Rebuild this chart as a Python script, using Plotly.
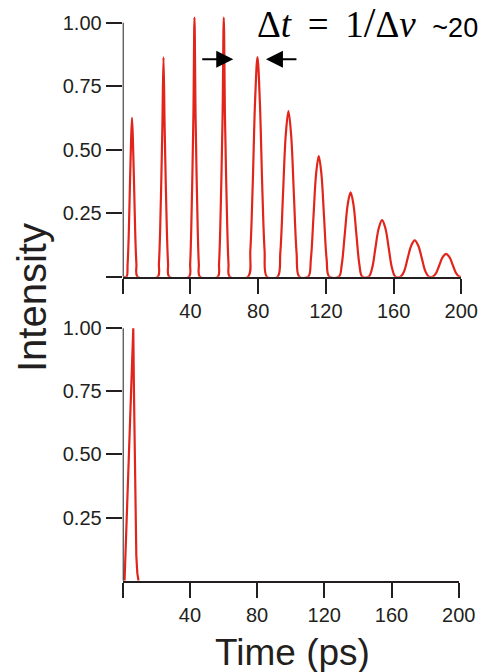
import plotly.graph_objects as go

# ---------------- data ----------------
# top panel: pulse train, time in ps, normalised intensity
train_t = [
    0.5,
    2.25, 2.9, 3.55, 4.2, 4.85, 5.5, 6.15, 6.8, 7.45, 8.1, 8.75,
    20.73, 21.4, 22.08, 22.75, 23.43, 24.1, 24.77, 25.45, 26.12, 26.8, 27.47,
    39.2, 39.84, 40.48, 41.12, 41.76, 42.4, 43.04, 43.68, 44.32, 44.96, 45.6,
    56.2, 56.9, 57.6, 58.3, 59.0, 59.7, 60.4, 61.1, 61.8, 62.5, 63.2,
    74.0, 75.4, 76.8, 78.2, 79.6, 81.0, 82.4, 83.8, 85.2,
    91.5, 93.1, 94.7, 96.3, 97.9, 99.5, 101.1, 102.7, 104.3,
    109.6, 111.15, 112.7, 114.25, 115.8, 117.35, 118.9, 120.45, 122.0,
    127.7, 129.4, 131.15, 132.9, 134.6, 136.3, 138.05, 139.8, 141.5,
    145.3, 147.3, 149.25, 151.2, 153.2, 155.2, 157.15, 159.1, 161.1,
    164.1, 166.2, 168.3, 170.4, 172.5, 174.6, 176.7, 178.8, 180.9,
    183.0, 185.0, 187.0, 189.0, 191.0, 193.0, 195.0, 197.0, 199.0,
    200.0,
]
train_i = [
    0.0,
    0.0, 0.05, 0.16, 0.34, 0.51, 0.625, 0.51, 0.34, 0.16, 0.05, 0.0,
    0.0, 0.052, 0.173, 0.363, 0.588, 0.864, 0.588, 0.363, 0.173, 0.052, 0.0,
    0.0, 0.051, 0.184, 0.388, 0.632, 1.02, 0.632, 0.388, 0.184, 0.051, 0.0,
    0.0, 0.051, 0.184, 0.388, 0.632, 1.02, 0.632, 0.388, 0.184, 0.051, 0.0,
    0.0, 0.104, 0.363, 0.692, 0.865, 0.692, 0.363, 0.104, 0.0,
    0.0, 0.095, 0.326, 0.557, 0.652, 0.557, 0.326, 0.095, 0.0,
    0.0, 0.069, 0.238, 0.406, 0.475, 0.406, 0.238, 0.069, 0.0,
    0.0, 0.048, 0.166, 0.284, 0.332, 0.284, 0.166, 0.048, 0.0,
    0.0, 0.033, 0.112, 0.190, 0.223, 0.190, 0.112, 0.033, 0.0,
    0.0, 0.021, 0.072, 0.122, 0.143, 0.122, 0.072, 0.021, 0.0,
    0.0, 0.013, 0.045, 0.077, 0.090, 0.077, 0.045, 0.013, 0.0,
    0.0,
]

# bottom panel: single pulse
single_t = [1.1, 2.4, 3.7, 5.0, 6.3, 6.7, 7.1, 7.6, 8.1, 8.7, 9.4]
single_i = [0.0, 0.25, 0.5, 0.75, 1.0, 0.75, 0.5, 0.25, 0.1, 0.03, 0.0]

# axes ticks
x_ticks = [0, 40, 80, 120, 160, 200]
x_tick_labels = ["", "40", "80", "120", "160", "200"]
y_ticks_top = [0, 0.25, 0.5, 0.75, 1.0]
y_tick_labels_top = ["", "0.25", "0.50", "0.75", "1.00"]
y_ticks_bottom = [0.25, 0.5, 0.75, 1.0]
y_tick_labels_bottom = ["0.25", "0.50", "0.75", "1.00"]

# spacing arrows (tail time, head time, level)
arrow_tails = [46.1, 103.5]
arrow_heads = [65.3, 84.6]
arrow_level = 0.856

# ---------------- styles ----------------
W, H = 480, 672
RED = "#e1251b"
INK = "#231f20"
SANS = "Liberation Sans, Arial, sans-serif"
SERIF = "Liberation Serif, Times New Roman, serif"

fig = go.Figure()
fig.add_trace(go.Scatter(x=train_t, y=train_i, mode="lines",
                         line=dict(color=RED, width=2.2, shape="spline"),
                         xaxis="x", yaxis="y", hoverinfo="skip"))
fig.add_trace(go.Scatter(x=single_t, y=single_i, mode="lines",
                         line=dict(color=RED, width=2.2),
                         xaxis="x2", yaxis="y2", hoverinfo="skip"))

def px_x(p):
    return p / W

def px_y(p):
    return 1 - p / H

yr = [0, 1.035]
top_y0, top_y1 = 276.7, 22.7
bot_y0, bot_y1 = 580.7, 328.3
top_dom = [px_y(top_y0), px_y(top_y0 - (top_y0 - top_y1) * yr[1])]
bot_dom = [px_y(bot_y0), px_y(bot_y0 - (bot_y0 - bot_y1) * yr[1])]

tickfont = dict(family=SANS, size=20, color=INK)
xcommon = dict(range=[0, 200], showline=True, linecolor=INK, linewidth=2,
               ticks="outside", ticklen=15, tickwidth=2, tickcolor=INK,
               tickvals=x_ticks, ticktext=x_tick_labels, showgrid=False,
               zeroline=False, tickfont=tickfont, fixedrange=True)
ycommon = dict(range=yr, showline=False, ticks="outside", ticklen=16,
               tickwidth=2, tickcolor=INK, showgrid=False, zeroline=False,
               tickfont=tickfont, fixedrange=True)

fig.update_layout(
    width=W, height=H, autosize=False,
    margin=dict(l=0, r=0, t=0, b=0, pad=0, autoexpand=False),
    paper_bgcolor="white", plot_bgcolor="white", showlegend=False,
    xaxis=dict(domain=[px_x(122.7), px_x(461.3)], anchor="y", **xcommon),
    yaxis=dict(domain=top_dom, anchor="x", tickvals=y_ticks_top,
               ticktext=y_tick_labels_top, **ycommon),
    xaxis2=dict(domain=[px_x(122.7), px_x(458.7)], anchor="y2", **xcommon),
    yaxis2=dict(domain=bot_dom, anchor="x2", tickvals=y_ticks_bottom,
                ticktext=y_tick_labels_bottom, **ycommon),
)

# y axis lines only from 0 to 1
for xr, yref in (("x", "y"), ("x2", "y2")):
    fig.add_shape(type="line", xref=xr, yref=yref, x0=0, x1=0, y0=0, y1=1,
                  line=dict(color=INK, width=2))

# arrows
for tail, head in zip(arrow_tails, arrow_heads):
    fig.add_annotation(x=head, y=arrow_level, ax=tail, ay=arrow_level,
                       xref="x", yref="y", axref="x", ayref="y", text="",
                       showarrow=True, arrowhead=2, arrowsize=1.7,
                       arrowwidth=2, arrowcolor="black")

# formula
fig.add_annotation(
    x=px_x(255), y=px_y(23), xref="paper", yref="paper",
    xanchor="left", yanchor="middle", showarrow=False,
    text=("Δ<i>t</i>\u00a0\u2009=\u00a0\u20091<span style='font-size:42px'>/</span>Δ<i>ν</i>"
          "\u00a0\u2009<span style='font-family:Liberation Sans;font-size:27px'>~20</span>"),
    font=dict(family=SERIF, size=37, color="black"))

# axis titles
fig.add_annotation(x=px_x(32), y=px_y(298), xref="paper", yref="paper",
                   text="Intensity", textangle=-90, showarrow=False,
                   xanchor="center", yanchor="middle",
                   font=dict(family=SANS, size=40, color=INK))
fig.add_annotation(x=px_x(292.5), y=px_y(652), xref="paper", yref="paper",
                   text="Time (ps)", showarrow=False,
                   xanchor="center", yanchor="middle",
                   font=dict(family=SANS, size=37, color=INK))

fig.write_html("out.html", config={"responsive": False})
